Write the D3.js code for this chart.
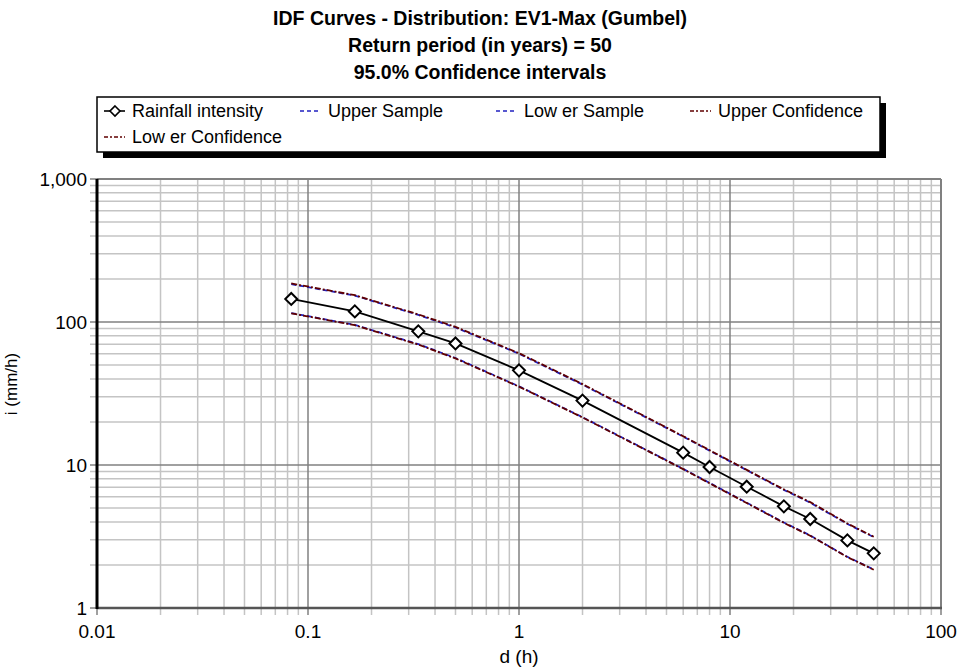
<!DOCTYPE html>
<html>
<head>
<meta charset="utf-8">
<script src="https://cdn.jsdelivr.net/npm/d3@7"></script>
<style>
  body { margin: 0; background: #fff; }
  svg { font-family: "Liberation Sans", Arial, sans-serif; }
</style>
</head>
<body>
<div id="chart"></div>
<script>
// Durations (h) and intensities (mm/h)
const durations = [0.0833, 0.1667, 0.3333, 0.5, 1, 2, 6, 8, 12, 18, 24, 36, 48];
const intensity = [145, 118.6, 86, 70.8, 45.9, 28.2, 12.2, 9.68, 7.05, 5.14, 4.19, 2.97, 2.41];
const upperSample = [184, 153, 112, 91.5, 60, 36.5, 15.8, 12.6, 9.2, 6.7, 5.45, 3.87, 3.13];
const lowerSample = [115.5, 95.5, 70, 56, 35.5, 21.6, 9.4, 7.5, 5.45, 3.96, 3.22, 2.28, 1.86];
const upperConf = [186, 154, 113, 92.5, 60.5, 36.8, 15.9, 12.7, 9.25, 6.75, 5.5, 3.9, 3.15];
const lowerConf = [115, 95, 69.5, 55.6, 35.3, 21.5, 9.35, 7.45, 5.42, 3.94, 3.2, 2.27, 1.85];
const xTicks = [0.01, 0.1, 1, 10, 100];
const yTicks = [1, 10, 100, 1000];
const titleLines = ["IDF Curves - Distribution: EV1-Max (Gumbel)",
                    "Return period (in years) = 50",
                    "95.0% Confidence intervals"];

const W = 960, H = 671;
const margin = {top: 179, right: 19, bottom: 63, left: 97};
const width = W - margin.left - margin.right,
      height = H - margin.top - margin.bottom;

const svg = d3.select("#chart").append("svg")
    .attr("width", W).attr("height", H);

// Titles
svg.selectAll(".title").data(titleLines).enter().append("text")
    .attr("x", 480)
    .attr("y", (d, i) => 18 + i * 27)
    .attr("dy", "0.35em")
    .attr("text-anchor", "middle")
    .style("font-weight", "bold")
    .style("font-size", "19.5px")
    .text(d => d);

const g = svg.append("g")
    .attr("transform", "translate(" + margin.left + "," + margin.top + ")");

const x = d3.scaleLog().domain([0.01, 100]).range([0, width]);
const y = d3.scaleLog().domain([1, 1000]).range([height, 0]);

// minor positions
const xMinor = [], yMinor = [];
[0.01, 0.1, 1, 10].forEach(b => { for (let k = 2; k <= 9; k++) xMinor.push(b * k); });
[1, 10, 100].forEach(b => { for (let k = 2; k <= 9; k++) yMinor.push(b * k); });

// Grid
g.selectAll(".gx").data(xMinor).enter().append("line")
    .attr("x1", d => x(d)).attr("x2", d => x(d))
    .attr("y1", 0).attr("y2", height + 7)
    .attr("stroke", "#c4c4c4").attr("stroke-width", 1.5);
g.selectAll(".gy").data(yMinor).enter().append("line")
    .attr("y1", d => y(d)).attr("y2", d => y(d))
    .attr("x1", -7).attr("x2", width)
    .attr("stroke", "#c4c4c4").attr("stroke-width", 1.5);
g.selectAll(".gxM").data(xTicks).enter().append("line")
    .attr("x1", d => x(d)).attr("x2", d => x(d))
    .attr("y1", 0).attr("y2", height + 7)
    .attr("stroke", "#808080").attr("stroke-width", 1.5);
g.selectAll(".gyM").data(yTicks).enter().append("line")
    .attr("y1", d => y(d)).attr("y2", d => y(d))
    .attr("x1", -7).attr("x2", width)
    .attr("stroke", "#808080").attr("stroke-width", 1.5);

// Frame
g.append("line").attr("x1", 0).attr("x2", width).attr("y1", 0).attr("y2", 0)
    .attr("stroke", "#808080").attr("stroke-width", 2);
g.append("line").attr("x1", width).attr("x2", width).attr("y1", 0).attr("y2", height)
    .attr("stroke", "#808080").attr("stroke-width", 2);
g.append("line").attr("x1", 0).attr("x2", width + 1).attr("y1", height).attr("y2", height)
    .attr("stroke", "#555").attr("stroke-width", 2.5);
g.append("line").attr("x1", 0).attr("x2", 0).attr("y1", 0).attr("y2", height + 1)
    .attr("stroke", "#000").attr("stroke-width", 3);

// Tick labels
const fmt = d3.format(",");
g.selectAll(".xl").data(xTicks).enter().append("text")
    .attr("x", d => x(d)).attr("y", height + 23)
    .attr("dy", "0.35em").attr("text-anchor", "middle")
    .style("font-size", "19px").text(d => d);
g.selectAll(".yl").data(yTicks).enter().append("text")
    .attr("x", -10).attr("y", d => y(d))
    .attr("dy", "0.35em").attr("text-anchor", "end")
    .style("font-size", "19px").text(d => fmt(d));

// Axis titles
svg.append("text").attr("x", 519).attr("y", 656).attr("dy", "0.35em")
    .attr("text-anchor", "middle").style("font-size", "19px").text("d (h)");
svg.append("text").attr("transform", "translate(11,384) rotate(-90)")
    .attr("dy", "0.35em").attr("text-anchor", "middle")
    .style("font-size", "17px").text("i (mm/h)");

// Series
const line = d3.line().x(d => x(d[0])).y(d => y(d[1]));
const series = [
  {vals: lowerSample, color: "#2020c0", dash: "5,3"},
  {vals: upperSample, color: "#2020c0", dash: "5,3"},
  {vals: lowerConf, color: "#600000", dash: "6,2,2,2"},
  {vals: upperConf, color: "#600000", dash: "6,2,2,2"}
];
series.forEach(s => {
  g.append("path")
      .datum(durations.map((d, i) => [d, s.vals[i]]))
      .attr("fill", "none")
      .attr("stroke", s.color)
      .attr("stroke-width", 1.8)
      .attr("stroke-dasharray", s.dash)
      .attr("d", line);
});
const main = durations.map((d, i) => [d, intensity[i]]);
g.append("path").datum(main)
    .attr("fill", "none").attr("stroke", "#000").attr("stroke-width", 1.8)
    .attr("d", line);
const diamond = "M0,-6L6,0L0,6L-6,0Z";
g.selectAll(".pt").data(main).enter().append("path")
    .attr("d", diamond)
    .attr("transform", d => "translate(" + x(d[0]) + "," + y(d[1]) + ")")
    .attr("fill", "#fff").attr("stroke", "#000").attr("stroke-width", 2);

// Legend
const leg = svg.append("g");
leg.append("rect").attr("x", 103).attr("y", 103).attr("width", 783).attr("height", 55)
    .attr("fill", "#000");
leg.append("rect").attr("x", 97).attr("y", 97).attr("width", 783).attr("height", 55)
    .attr("fill", "#fff").attr("stroke", "#000").attr("stroke-width", 1.5);
const legendItems = [
  {name: "Rainfall intensity", x: 104, y: 111, color: "#000", dash: null, marker: true},
  {name: "Upper Sample", x: 300, y: 111, color: "#2020c0", dash: "4,3"},
  {name: "Low er Sample", x: 496, y: 111, color: "#2020c0", dash: "4,3"},
  {name: "Upper Confidence", x: 690, y: 111, color: "#600000", dash: "4,2,2,2"},
  {name: "Low er Confidence", x: 104, y: 137, color: "#600000", dash: "4,2,2,2"}
];
legendItems.forEach(it => {
  leg.append("line").attr("x1", it.x).attr("x2", it.x + 21)
      .attr("y1", it.y).attr("y2", it.y)
      .attr("stroke", it.color).attr("stroke-width", 1.6)
      .attr("stroke-dasharray", it.dash);
  if (it.marker) {
    leg.append("path").attr("d", "M0,-5L5,0L0,5L-5,0Z")
        .attr("transform", "translate(" + (it.x + 11) + "," + it.y + ")")
        .attr("fill", "#fff").attr("stroke", "#000").attr("stroke-width", 1.6);
  }
  leg.append("text").attr("x", it.x + 28).attr("y", it.y).attr("dy", "0.35em")
      .style("font-size", "18px").text(it.name);
});
</script>
</body>
</html>
